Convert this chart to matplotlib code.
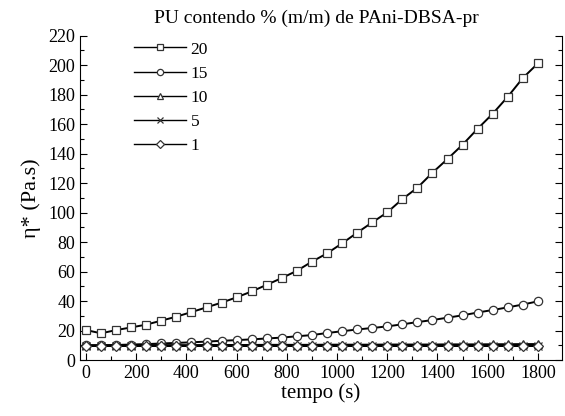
import numpy as np
import matplotlib
matplotlib.use('Agg')
from matplotlib import pyplot as plt
from matplotlib.ticker import MultipleLocator

plt.rcParams['font.family'] = ['Liberation Serif', 'DejaVu Serif']
plt.rcParams['mathtext.fontset'] = 'stix'

# tempo (s), one point each 60 s
tempo = np.arange(0, 1801, 60)

pu20 = [20.3, 18.1, 20.3, 22.1, 24.0, 26.7, 29.4, 32.5, 35.7, 38.9, 42.5,
        46.5, 51.0, 55.6, 60.5, 66.7, 72.3, 79.1, 86.3, 93.3, 100.1, 109.1,
        116.8, 127.0, 136.3, 146.0, 156.8, 167.0, 178.5, 191.2, 201.1]
pu15 = [10.0, 10.0, 10.2, 10.5, 10.8, 11.2, 11.6, 12.0, 12.5, 13.0, 13.5,
        14.0, 14.6, 15.2, 16.1, 16.9, 18.3, 19.5, 20.7, 21.7, 22.8, 24.2,
        25.7, 27.1, 28.7, 30.3, 32.2, 33.9, 35.7, 37.6, 39.8]
pu10 = [10.0, 10.0, 10.0, 10.0, 10.1, 10.1, 10.1, 10.1, 10.2, 10.2, 10.2,
        10.2, 10.3, 10.3, 10.3, 10.3, 10.4, 10.4, 10.4, 10.4, 10.5, 10.5,
        10.5, 10.5, 10.6, 10.6, 10.6, 10.7, 10.7, 10.8, 10.8]
pu5 = [9.6, 9.6, 9.6, 9.6, 9.6, 9.6, 9.6, 9.6, 9.6, 9.6, 9.6,
       9.6, 9.6, 9.6, 9.6, 9.6, 9.6, 9.6, 9.6, 9.6, 9.6, 9.6,
       9.6, 9.6, 9.6, 9.6, 9.6, 9.6, 9.6, 9.6, 9.6]
pu1 = [9.3, 9.3, 9.3, 9.3, 9.3, 9.3, 9.3, 9.3, 9.3, 9.3, 9.3,
       9.3, 9.3, 9.3, 9.3, 9.3, 9.3, 9.3, 9.3, 9.3, 9.3, 9.3,
       9.3, 9.3, 9.3, 9.3, 9.3, 9.3, 9.3, 9.3, 9.3]

series = [(pu20, 's', '20'), (pu15, 'o', '15'), (pu10, '^', '10'),
          (pu5, 'x', '5'), (pu1, 'D', '1')]

fig = plt.figure(figsize=(5.65, 4.16), dpi=100)
ax = fig.add_axes([0.1416, 0.1346, 0.8531, 0.78])

for vals, mk, lab in series:
    ms = 5.2 if mk == 'D' else 6.0
    ax.plot(tempo, vals, color='black', lw=1.4, marker=mk, ms=ms,
            mfc='white', mec='#333333', mew=0.9, label=lab)

ax.set_xlim(-24, 1896)
ax.set_ylim(0, 220)
ax.xaxis.set_major_locator(MultipleLocator(200))
ax.xaxis.set_minor_locator(MultipleLocator(100))
ax.yaxis.set_major_locator(MultipleLocator(20))
ax.yaxis.set_minor_locator(MultipleLocator(10))
ax.tick_params(which='both', direction='in', right=True, top=False,
               labelsize=13, width=0.8)
ax.tick_params(which='major', length=5)
ax.tick_params(which='minor', length=3)
ax.spines['top'].set_visible(False)

ax.set_xlabel('tempo (s)', fontsize=15, labelpad=1)
ax.set_ylabel('η* (Pa.s)', fontsize=16, labelpad=5)
fig.text(0.56, 0.955, 'PU contendo % (m/m) de PAni-DBSA-pr', ha='center',
         va='center', fontsize=14)

# legend without frame, handles a bit smaller than the plot markers
leg = ax.legend(loc='upper left', bbox_to_anchor=(0.08, 1.03),
                frameon=False, fontsize=12.5, handlelength=3.0,
                markerscale=0.75, labelspacing=0.46, handletextpad=0.25)
for h in leg.get_lines():
    h.set_linewidth(1.0)

fig.savefig('out.png', dpi=100)
